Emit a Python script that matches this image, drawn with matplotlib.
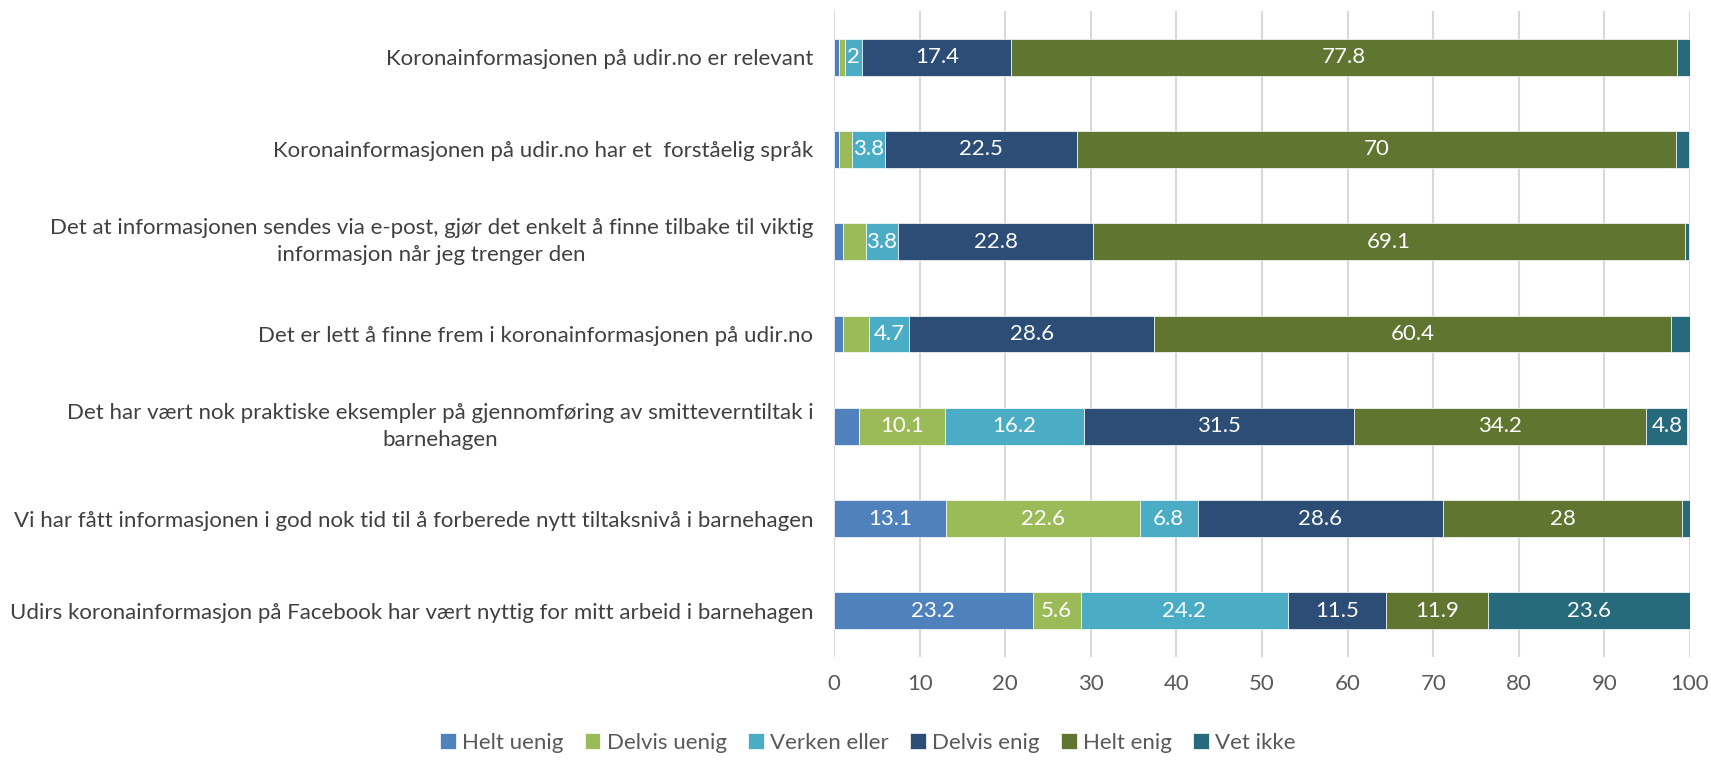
import matplotlib
matplotlib.use("Agg")
import matplotlib.pyplot as plt
import numpy as np

categories = [
    "Koronainformasjonen på udir.no er relevant",
    "Koronainformasjonen på udir.no har et  forståelig språk",
    "Det at informasjonen sendes via e-post, gjør det enkelt å finne tilbake til viktig\ninformasjon når jeg trenger den",
    "Det er lett å finne frem i koronainformasjonen på udir.no",
    "Det har vært nok praktiske eksempler på gjennomføring av smitteverntiltak i\nbarnehagen",
    "Vi har fått informasjonen i god nok tid til å forberede nytt tiltaksnivå i barnehagen",
    "Udirs koronainformasjon på Facebook har vært nyttig for mitt arbeid i barnehagen",
]
series_names = ["Helt uenig", "Delvis uenig", "Verken eller", "Delvis enig", "Helt enig", "Vet ikke"]
helt_uenig   = [0.6, 0.6, 1.1, 1.1, 2.9, 13.1, 23.2]
delvis_uenig = [0.7, 1.5, 2.6, 3.0, 10.1, 22.6, 5.6]
verken_eller = [2.0, 3.8, 3.8, 4.7, 16.2, 6.8, 24.2]
delvis_enig  = [17.4, 22.5, 22.8, 28.6, 31.5, 28.6, 11.5]
helt_enig    = [77.8, 70.0, 69.1, 60.4, 34.2, 28.0, 11.9]
vet_ikke     = [1.5, 1.5, 0.5, 2.2, 4.8, 0.9, 23.6]
colors = ["#4F81BD", "#9BBB59", "#4BACC6", "#2C4D75", "#5F7530", "#276A7C"]
xticks = [0, 10, 20, 30, 40, 50, 60, 70, 80, 90, 100]

series = [helt_uenig, delvis_uenig, verken_eller, delvis_enig, helt_enig, vet_ikke]

plt.rcParams['font.family'] = ['Lato', 'DejaVu Sans']
FS = 16

fig = plt.figure(figsize=(17.11, 7.72), dpi=100)
ax = fig.add_axes([834/1711, (772-657)/772, (1690-834)/1711, (657-11)/772])

y = np.arange(len(categories))
left = np.zeros(len(categories))
for si, (name, vals, col) in enumerate(zip(series_names, series, colors)):
    vals = np.array(vals)
    ax.barh(y, vals, left=left, height=0.4, color=col, label=name,
            edgecolor='white', linewidth=0.5, zorder=3)
    for yi, (l, v) in enumerate(zip(left, vals)):
        if si == 2 or v >= 4.5:
            ax.text(l + v / 2, yi, f"{v:g}", ha='center', va='center', color='white',
                    fontsize=FS, zorder=4)
    left += vals

ax.set_xlim(0, 100)
ax.set_ylim(len(categories) - 0.5, -0.5)
ax.set_xticks(xticks)
ax.set_yticks(y)
ax.set_yticklabels(categories, fontsize=FS, color='#404040', multialignment='center',
                   linespacing=1.45)
for lab, txt in zip(ax.get_yticklabels(), categories):
    if "\n" in txt:
        lab.set_verticalalignment('center')
ax.tick_params(axis='y', length=0, pad=15)
ax.tick_params(axis='x', length=0, pad=12, labelsize=FS, labelcolor='#595959')
ax.grid(axis='x', color='#D9D9D9', linewidth=1.5, zorder=0)
for s in ax.spines.values():
    s.set_visible(False)

handles, labels = ax.get_legend_handles_labels()
fig.legend(handles, labels, loc='center', bbox_to_anchor=(868/1711, 1 - 743/772),
           ncol=6, frameon=False, fontsize=FS, labelcolor='#595959',
           handlelength=0.7, handleheight=0.7, handletextpad=0.3, columnspacing=0.95)

fig.savefig("out.png", dpi=100)
